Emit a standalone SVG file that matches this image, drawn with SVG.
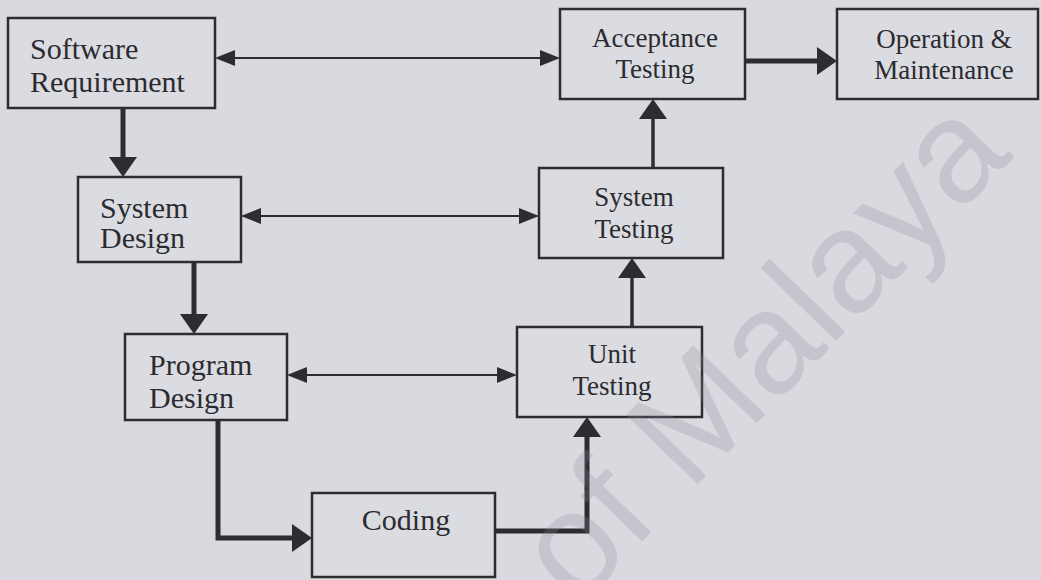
<svg xmlns="http://www.w3.org/2000/svg" width="1041" height="580" viewBox="0 0 1041 580">
  <defs>
    <style>
      .bg { fill: #d9dadf; }
      .box { fill: #dbdce1; stroke: #2c2c31; stroke-width: 2.5; }
      .lbl { font-family: "Liberation Serif", "Times New Roman", serif; fill: #2b2b30; }
      .l30 { font-size: 30px; }
      .l27 { font-size: 27px; }
      .mid { text-anchor: middle; }
      .thin { fill: none; stroke: #2c2c31; stroke-width: 2; }
      .med { fill: none; stroke: #2c2c31; stroke-width: 3.5; }
      .thick { fill: none; stroke: #2c2c31; stroke-width: 5; }
      .wm { font-family: "Liberation Sans", Arial, sans-serif; font-size: 145px; fill: #8a8d99; fill-opacity: 0.25; }
    </style>
    <!-- thin arrowhead, base sits on the path end -->
    <marker id="headThin" markerUnits="userSpaceOnUse" viewBox="0 0 20 16" markerWidth="20" markerHeight="16" refX="0" refY="8" orient="auto-start-reverse">
      <path d="M0,0 L20,8 L0,16 Z" fill="#2c2c31"/>
    </marker>
    <!-- wide arrowhead for the flow arrows -->
    <marker id="headThick" markerUnits="userSpaceOnUse" viewBox="0 0 20 28" markerWidth="20" markerHeight="28" refX="0" refY="14" orient="auto">
      <path d="M0,0 L20,14 L0,28 Z" fill="#2c2c31"/>
    </marker>
  </defs>

  <rect class="bg" x="0" y="0" width="1041" height="580"/>

  <g id="connectors">
    <path class="thin" d="M235,58 H540" marker-start="url(#headThin)" marker-end="url(#headThin)"/>
    <path class="thin" d="M261,216 H519" marker-start="url(#headThin)" marker-end="url(#headThin)"/>
    <path class="thin" d="M307,375 H497" marker-start="url(#headThin)" marker-end="url(#headThin)"/>
    <path class="thick" d="M123,108 V157" marker-end="url(#headThick)"/>
    <path class="thick" d="M194,262 V314" marker-end="url(#headThick)"/>
    <path class="thick" d="M218,420 V538 H292" marker-end="url(#headThick)"/>
    <path class="thick" d="M495,531 H587 V437" marker-end="url(#headThick)"/>
    <path class="med" d="M632,327 V278" marker-end="url(#headThick)"/>
    <path class="med" d="M653,168 V119" marker-end="url(#headThick)"/>
    <path class="thick" d="M745,61 H817" marker-end="url(#headThick)"/>
  </g>

  <g id="software-requirement">
    <rect class="box" x="8" y="18" width="207" height="90"/>
    <text class="lbl l30" x="30" y="59">Software</text>
    <text class="lbl l30" x="30" y="92">Requirement</text>
  </g>

  <g id="acceptance-testing">
    <rect class="box" x="560" y="9" width="185" height="90"/>
    <text class="lbl l27 mid" x="655" y="47">Acceptance</text>
    <text class="lbl l27 mid" x="655" y="78">Testing</text>
  </g>

  <g id="operation-maintenance">
    <rect class="box" x="837" y="9" width="201" height="90"/>
    <text class="lbl l27 mid" x="944" y="48">Operation &amp;</text>
    <text class="lbl l27 mid" x="944" y="79">Maintenance</text>
  </g>

  <g id="system-design">
    <rect class="box" x="78" y="177" width="163" height="85"/>
    <text class="lbl l30" x="100" y="218">System</text>
    <text class="lbl l30" x="100" y="248">Design</text>
  </g>

  <g id="system-testing">
    <rect class="box" x="539" y="168" width="184" height="90"/>
    <text class="lbl l27 mid" x="634" y="206">System</text>
    <text class="lbl l27 mid" x="634" y="238">Testing</text>
  </g>

  <g id="program-design">
    <rect class="box" x="125" y="334" width="162" height="86"/>
    <text class="lbl l30" x="149" y="375">Program</text>
    <text class="lbl l30" x="149" y="408">Design</text>
  </g>

  <g id="unit-testing">
    <rect class="box" x="517" y="327" width="185" height="90"/>
    <text class="lbl l27 mid" x="612" y="363">Unit</text>
    <text class="lbl l27 mid" x="612" y="395">Testing</text>
  </g>

  <g id="coding">
    <rect class="box" x="312" y="493" width="183" height="84"/>
    <text class="lbl l30 mid" x="406" y="530">Coding</text>
  </g>

  <!-- translucent watermark laid over the page -->
  <text class="wm" transform="translate(700,482) rotate(-46)" x="-853" y="0">University of Malaya</text>
</svg>
